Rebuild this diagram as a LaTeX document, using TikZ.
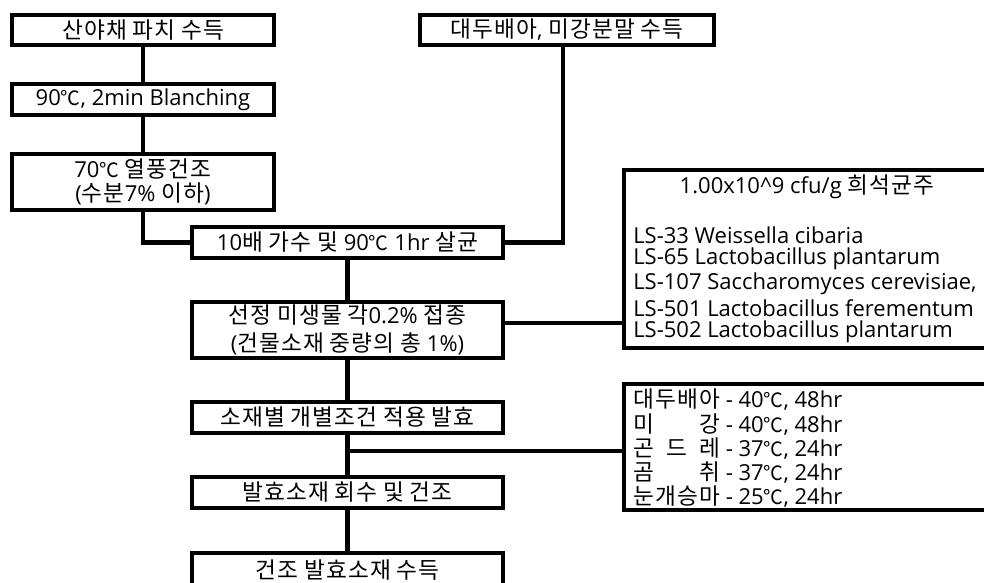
\documentclass[tikz,border=0pt]{standalone}
\usepackage{fontspec}
\setmainfont{Open Sans}
\newfontfamily\hgfont[Scale=1.03,LetterSpace=5]{Noto Sans CJK KR}
\newfontfamily\degfont[Scale=0.9]{Noto Sans CJK KR}
\XeTeXinterchartokenstate=1
\newXeTeXintercharclass\hgclass
\newXeTeXintercharclass\degclass
\newcount\hgc
\hgc="AC00
\loop \XeTeXcharclass\hgc=\hgclass \ifnum\hgc<"D7A3 \advance\hgc by 1 \repeat
\XeTeXcharclass"2103=\degclass
\XeTeXinterchartoks 0 \hgclass = {\hgfont}
\XeTeXinterchartoks 4095 \hgclass = {\hgfont}
\XeTeXinterchartoks \degclass \hgclass = {\hgfont}
\XeTeXinterchartoks 0 \degclass = {\degfont}
\XeTeXinterchartoks 4095 \degclass = {\degfont}
\XeTeXinterchartoks \hgclass \degclass = {\degfont}
\XeTeXinterchartoks \hgclass 0 = {\rmfamily}
\XeTeXinterchartoks \hgclass 4095 = {\rmfamily}
\XeTeXinterchartoks \degclass 0 = {\rmfamily}
\XeTeXinterchartoks \degclass 4095 = {\rmfamily}
\newlength\korw
\newcommand\spreadkr[1]{\settowidth\korw{대두배아}\makebox[\korw]{#1}}
\begin{document}
\begin{tikzpicture}[x=0.75pt,y=-0.75pt,
  box/.style={draw=black, line width=3.4pt, fill=white, inner sep=0pt, align=center,
              font=\fontsize{16.5}{21}\selectfont},
  con/.style={line width=3.4pt},
  txt/.style={inner sep=0pt, font=\fontsize{16.5}{21}\selectfont, anchor=west}]
\useasboundingbox (0,0) rectangle (984,582);
\clip (0,0) rectangle (984,582);
\fill[white] (0,0) rectangle (984,582);

\node[box, minimum width=196.5pt, minimum height=22.5pt] (b1) at (143,30) {산야채 파치 수득};
\node[box, minimum width=196.5pt, minimum height=23.25pt] (b2) at (143,99.5) {90℃, 2min Blanching};
\node[box, minimum width=196.5pt, minimum height=42pt, font=\fontsize{16.5}{18.5}\selectfont] (b3) at (143,182) {70℃ 열풍건조\\(수분7\% 이하)};
\node[box, minimum width=220.5pt, minimum height=22.5pt] (b5) at (567,30) {대두배아, 미강분말 수득};
\node[box, minimum width=233.25pt, minimum height=23.25pt] (b4) at (347.5,242.5) {10배 가수 및 90℃ 1hr 살균};
\node[box, minimum width=233.25pt, minimum height=42pt] (b6) at (347.5,330) {선정 미생물 각0.2\% 접종\\(건물소재 중량의 총 1\%)};
\node[box, minimum width=233.25pt, minimum height=23.25pt] (b8) at (347.5,417.5) {소재별 개별조건 적용 발효};
\node[box, minimum width=233.25pt, minimum height=23.25pt] (b9) at (347.5,492.5) {발효소재 회수 및 건조};
\node[box, minimum width=233.25pt, minimum height=25.5pt] (b10) at (347.5,570) {건조 발효소재 수득};
\node[box, minimum width=277.5pt, minimum height=133.5pt] (st) at (809,259) {};
\node[box, minimum width=277.5pt, minimum height=94.5pt] (cd) at (809,447) {};

\draw[con] (b1) -- (b2);
\draw[con] (b2) -- (b3);
\draw[con] (b3.south) |- (b4.west);
\draw[con] ([xshift=-3pt]b5.south) |- (b4.east);
\draw[con] (b4) -- (b6);
\draw[con] ([yshift=5.25pt]b6.east) -- ([yshift=5.25pt]b6.east -| st.west);
\draw[con] (b6) -- (b8);
\draw[con] (b8) -- (b9);
\coordinate (br) at (347.5,451);
\draw[con] (br) -- (br -| cd.west);
\draw[con] (b9) -- (b10);

% strain box text
\node[txt, anchor=center] (stT) at (807,187) {1.00x10\textasciicircum 9 cfu/g 희석균주};
\foreach \t [count=\i] in {{LS-33 Weissella cibaria},{LS-65 Lactobacillus plantarum},
  {LS-107 Saccharomyces cerevisiae,},{LS-501 Lactobacillus ferementum},{LS-502 Lactobacillus plantarum}}
  \node[txt] (s\i) at (633,{235+24.25*(\i-1)}) {\t};

% condition box text
\foreach \t [count=\i] in {{대두배아 - 40℃, 48hr},{\spreadkr{미\hfill 강} - 40℃, 48hr},
  {\spreadkr{곤\hfill 드\hfill 레} - 37℃, 24hr},{\spreadkr{곰\hfill 취} - 37℃, 24hr},{눈개승마 - 25℃, 24hr}}
  \node[txt] (c\i) at (633,{400+24.25*(\i-1)}) {\t};
\end{tikzpicture}
\end{document}
